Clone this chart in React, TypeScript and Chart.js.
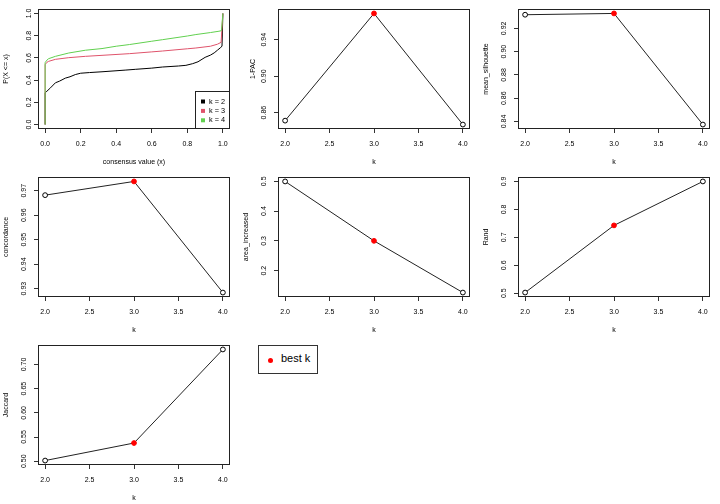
import React, { useEffect, useRef } from 'react';
import { Chart, registerables } from 'chart.js';

Chart.register(...registerables);

const FONT = '"Liberation Sans", Arial, Helvetica, sans-serif';

// ---------------- data ----------------
const kValues = [2, 3, 4];
const bestK = 3;

const onePAC = [0.8512, 0.9688, 0.8469];
const meanSilhouette = [0.9317, 0.9328, 0.8374];
const concordance = [0.9682, 0.9738, 0.9284];
const areaIncreased = [0.4995, 0.3, 0.1264];
const rand = [0.5024, 0.7427, 0.9];
const jaccard = [0.5014, 0.5376, 0.7309];

const kTicks = [2.0, 2.5, 3.0, 3.5, 4.0];
const pacTicks = [0.86, 0.9, 0.94];
const silTicks = [0.84, 0.86, 0.88, 0.9, 0.92];
const concTicks = [0.93, 0.94, 0.95, 0.96, 0.97];
const areaTicks = [0.2, 0.3, 0.4, 0.5];
const randTicks = [0.5, 0.6, 0.7, 0.8, 0.9];
const jaccardTicks = [0.5, 0.55, 0.6, 0.65, 0.7];

const consensusTicks = [0, 0.2, 0.4, 0.6, 0.8, 1.0];
const probTicks = [0, 0.2, 0.4, 0.6, 0.8, 1.0];

const ecdfLabels = ['k = 2', 'k = 3', 'k = 4'];
const ecdfColors = ['#000000', '#DF536B', '#61D04F'];

const ecdfK2X = [0, 0, 0.01, 0.03, 0.058, 0.08, 0.114, 0.14, 0.17, 0.2, 0.25, 0.32, 0.45, 0.507, 0.6, 0.661, 0.75, 0.792, 0.83, 0.86, 0.9, 0.93, 0.951, 0.97, 0.985, 0.995, 1.0];
const ecdfK2Y = [0, 0.286, 0.3, 0.33, 0.376, 0.39, 0.418, 0.43, 0.45, 0.462, 0.468, 0.475, 0.49, 0.497, 0.508, 0.518, 0.527, 0.533, 0.548, 0.565, 0.605, 0.625, 0.645, 0.67, 0.69, 0.705, 1.0];
const ecdfK3X = [0, 0, 0.01, 0.02, 0.058, 0.133, 0.227, 0.32, 0.474, 0.6, 0.661, 0.8, 0.848, 0.93, 0.969, 0.99, 1.0];
const ecdfK3Y = [0, 0.539, 0.56, 0.569, 0.587, 0.602, 0.614, 0.623, 0.638, 0.654, 0.662, 0.682, 0.689, 0.705, 0.723, 0.74, 1.0];
const ecdfK4X = [0, 0, 0.01, 0.02, 0.058, 0.133, 0.227, 0.32, 0.4, 0.474, 0.6, 0.661, 0.8, 0.848, 0.93, 0.978, 0.992, 1.0];
const ecdfK4Y = [0, 0.557, 0.58, 0.593, 0.614, 0.644, 0.669, 0.684, 0.705, 0.72, 0.75, 0.764, 0.797, 0.81, 0.828, 0.84, 0.845, 1.0];

// ---------------- layout ----------------
const CELL_W = 240;
const CELL_H = 168;

type Panel = {
  id: string;
  row: number;
  col: number;
  ecdf?: boolean;
  values?: number[];
  yTicks: number[];
  xTicks: number[];
  yDigits: number;
  yLabel: string;
  xLabel: string;
  yLabelX: number;
  yTitlePad: number;
};

const panels: Panel[] = [
  { id: 'ecdf', row: 0, col: 0, ecdf: true, yTicks: probTicks, xTicks: consensusTicks, yDigits: 1, yLabel: 'P(X <= x)', xLabel: 'consensus value (x)', yLabelX: 29.5, yTitlePad: 1.8 },
  { id: 'pac', row: 0, col: 1, values: onePAC, yTicks: pacTicks, xTicks: kTicks, yDigits: 2, yLabel: '1-PAC', xLabel: 'k', yLabelX: 24.5, yTitlePad: 9 },
  { id: 'sil', row: 0, col: 2, values: meanSilhouette, yTicks: silTicks, xTicks: kTicks, yDigits: 2, yLabel: 'mean_silhouette', xLabel: 'k', yLabelX: 24.5, yTitlePad: 1.8 },
  { id: 'conc', row: 1, col: 0, values: concordance, yTicks: concTicks, xTicks: kTicks, yDigits: 2, yLabel: 'concordance', xLabel: 'k', yLabelX: 24.5, yTitlePad: 1.8 },
  { id: 'area', row: 1, col: 1, values: areaIncreased, yTicks: areaTicks, xTicks: kTicks, yDigits: 1, yLabel: 'area_increased', xLabel: 'k', yLabelX: 24.5, yTitlePad: 1.8 },
  { id: 'rand', row: 1, col: 2, values: rand, yTicks: randTicks, xTicks: kTicks, yDigits: 1, yLabel: 'Rand', xLabel: 'k', yLabelX: 24.5, yTitlePad: 1.8 },
  { id: 'jac', row: 2, col: 0, values: jaccard, yTicks: jaccardTicks, xTicks: kTicks, yDigits: 2, yLabel: 'Jaccard', xLabel: 'k', yLabelX: 24.5, yTitlePad: 1.8 },
];

function extRange(vals: number[]): [number, number] {
  const mn = Math.min(...vals);
  const mx = Math.max(...vals);
  const d = (mx - mn) * 0.04;
  return [mn - d, mx + d];
}

const rStyle = {
  id: 'rStyle',
  afterDraw(chart: any, _args: any, opts: any) {
    const { ctx, chartArea: ca } = chart;
    ctx.save();
    // box
    ctx.strokeStyle = '#222';
    ctx.lineWidth = 1;
    const l = Math.round(ca.left) + 0.5;
    const t = Math.round(ca.top) + 0.5;
    const r = Math.round(ca.right) - 0.5;
    const b = Math.round(ca.bottom) - 0.5;
    ctx.strokeRect(l, t, r - l, b - t);
    // y tick labels (rotated, R style)
    const ys = chart.scales.y;
    ctx.font = `7px ${FONT}`;
    ctx.fillStyle = '#000';
    ctx.textAlign = 'center';
    ctx.textBaseline = 'middle';
    ys.ticks.forEach((tk: any) => {
      const py = ys.getPixelForValue(tk.value);
      ctx.save();
      ctx.translate(opts.yLabelX, py);
      ctx.rotate(-Math.PI / 2);
      ctx.fillText(String(tk.label), 0, 0);
      ctx.restore();
    });
    // legend (ECDF panel)
    if (opts.legend) {
      const bw = 35;
      const bh = 38;
      const bx = Math.round(ca.right) - bw;
      const by = Math.round(ca.bottom) - bh;
      ctx.fillStyle = '#fff';
      ctx.fillRect(bx, by, bw, bh);
      ctx.strokeStyle = '#222';
      ctx.strokeRect(bx + 0.5, by + 0.5, bw - 1, bh - 1);
      ctx.textAlign = 'left';
      ctx.font = `7.3px ${FONT}`;
      chart.data.datasets.forEach((ds: any, i: number) => {
        const cy = by + 10.5 + i * 9.4;
        ctx.fillStyle = ds.borderColor;
        ctx.fillRect(bx + 6, cy - 2, 4, 4);
        ctx.fillStyle = '#000';
        ctx.fillText(ds.label, bx + 14, cy);
      });
    }
    ctx.restore();
  },
};

function buildConfig(p: Panel): any {
  let datasets: any[];
  let xMin: number, xMax: number, yMin: number, yMax: number;
  if (p.ecdf) {
    const xs = [ecdfK2X, ecdfK3X, ecdfK4X];
    const ysArr = [ecdfK2Y, ecdfK3Y, ecdfK4Y];
    datasets = ecdfLabels.map((lab, i) => ({
      label: lab,
      data: xs[i].map((x, j) => ({ x, y: ysArr[i][j] })),
      borderColor: ecdfColors[i],
      backgroundColor: ecdfColors[i],
      borderWidth: 1,
      pointRadius: 0,
      tension: 0,
      order: 3 - i,
    }));
    [xMin, xMax] = extRange([0, 1]);
    [yMin, yMax] = extRange([0, 1]);
  } else {
    const vals = p.values as number[];
    datasets = [
      {
        label: p.yLabel,
        data: kValues.map((k, i) => ({ x: k, y: vals[i] })),
        borderColor: '#222',
        borderWidth: 1,
        tension: 0,
        pointRadius: 2.4,
        pointBorderWidth: 1,
        pointBackgroundColor: kValues.map((k) => (k === bestK ? '#FF0000' : '#FFFFFF')),
        pointBorderColor: kValues.map((k) => (k === bestK ? '#FF0000' : '#000000')),
        clip: false,
      },
    ];
    [xMin, xMax] = extRange(kValues);
    [yMin, yMax] = extRange(vals);
  }
  const font = { family: FONT, size: 7 };
  const grid = { drawOnChartArea: false, drawTicks: true, tickLength: 4, color: '#333', lineWidth: 1 };
  return {
    type: 'line',
    data: { datasets },
    plugins: [rStyle],
    options: {
      responsive: false,
      animation: false,
      devicePixelRatio: 1,
      layout: { padding: { top: 9, right: 10, left: 0, bottom: 0 } },
      plugins: {
        legend: { display: false },
        tooltip: { enabled: false },
        rStyle: { yLabelX: p.yLabelX, legend: !!p.ecdf },
      },
      scales: {
        x: {
          type: 'linear',
          min: xMin,
          max: xMax,
          afterBuildTicks: (s: any) => {
            s.ticks = p.xTicks.map((v) => ({ value: v }));
          },
          afterFit: (s: any) => {
            s.height = 39;
          },
          grid,
          border: { display: false },
          ticks: {
            font,
            color: '#000',
            padding: 7,
            maxRotation: 0,
            autoSkip: false,
            callback: (v: any) => Number(v).toFixed(1),
          },
          title: { display: true, text: p.xLabel, font, color: '#000', padding: { top: 0, bottom: 1.8 } },
        },
        y: {
          type: 'linear',
          min: yMin,
          max: yMax,
          afterBuildTicks: (s: any) => {
            s.ticks = p.yTicks.map((v) => ({ value: v }));
          },
          afterFit: (s: any) => {
            s.width = 38;
          },
          grid,
          border: { display: false },
          ticks: {
            font,
            color: 'rgba(0,0,0,0)',
            padding: 2,
            autoSkip: false,
            callback: (v: any) => Number(v).toFixed(p.yDigits),
          },
          title: { display: true, text: p.yLabel, font, color: '#000', padding: { top: p.yTitlePad, bottom: 0 } },
        },
      },
    },
  };
}

function PanelChart({ panel }: { panel: Panel }) {
  const ref = useRef<HTMLCanvasElement>(null);
  useEffect(() => {
    const chart = new Chart(ref.current as HTMLCanvasElement, buildConfig(panel));
    return () => chart.destroy();
  }, [panel]);
  return (
    <canvas
      ref={ref}
      width={CELL_W}
      height={CELL_H}
      style={{ position: 'absolute', left: panel.col * CELL_W, top: panel.row * CELL_H, width: CELL_W, height: CELL_H }}
    />
  );
}

export default function App() {
  return (
    <div style={{ position: 'absolute', left: 0, top: 0, width: 720, height: 504, background: '#fff', overflow: 'hidden' }}>
      {panels.map((p) => (
        <PanelChart key={p.id} panel={p} />
      ))}
      <div
        style={{
          position: 'absolute',
          left: 258,
          top: 345,
          width: 60,
          height: 29,
          boxSizing: 'border-box',
          border: '1px solid #333',
          background: '#fff',
          fontFamily: FONT,
          fontSize: 11,
          color: '#000',
        }}
      >
        <span
          style={{
            position: 'absolute',
            left: 8.5,
            top: 11.5,
            width: 5,
            height: 5,
            borderRadius: '50%',
            background: '#FF0000',
          }}
        />
        <span style={{ position: 'absolute', left: 22, top: 6, lineHeight: '13px', whiteSpace: 'nowrap' }}>best k</span>
      </div>
    </div>
  );
}
